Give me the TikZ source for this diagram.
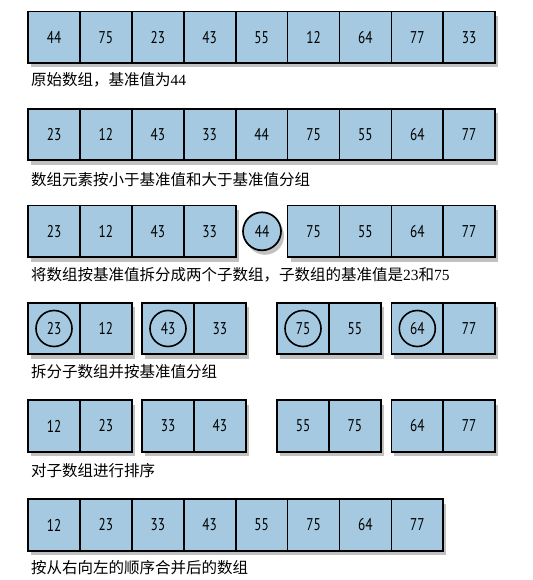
\documentclass[tikz,border=0pt]{standalone}
\usepackage{fontspec}
\setmainfont{Liberation Serif}
\newfontfamily\cjk{Noto Sans CJK SC}
\newfontfamily\cellfont[FakeStretch=0.78]{PT Sans}
\usetikzlibrary{shadows}
\definecolor{cellblue}{RGB}{164,201,224}
\begin{document}
\begin{tikzpicture}
[x=1pt,y=1pt,
  celldecorate/.style={shape=rectangle,draw,line width=1.7pt,fill=cellblue,
    minimum width=51.9pt,minimum height=51.5pt,inner sep=0pt,
    font=\cellfont\fontsize{17}{17}\selectfont,
    drop shadow={shadow xshift=3pt,shadow yshift=-4.5pt,opacity=.35,fill=black!70}},%
  pivotdecorate/.style={shape=circle,draw,line width=1.7pt,fill=cellblue,
    minimum size=38pt,inner sep=0pt,font=\cellfont\fontsize{17}{17}\selectfont,
    drop shadow={shadow xshift=3pt,shadow yshift=-4.5pt,opacity=.35,fill=black!70}},%
  ringdecorate/.style={shape=circle,draw,line width=1.6pt,minimum size=36pt,inner sep=0pt},%
  labeldecorate/.style={anchor=west,inner sep=0pt,font=\fontsize{15.5}{18}\selectfont}]
\useasboundingbox (0,0) rectangle (532,-580);
%% row 1: original array
\foreach \nodename/\x/\val in {a1/54/44, a2/105.9/75, a3/157.8/23, a4/209.7/43,
  a5/261.6/55, a6/313.5/12, a7/365.4/64, a8/417.3/77, a9/469.2/33} {
  \node (\nodename) at (\x,-37.2) [celldecorate] {\val};
}
\node (la) at (31,-80) [labeldecorate] {{\cjk 原始数组，基准值为}44};
%% row 2: grouped around pivot
\foreach \nodename/\x/\val in {b1/54/23, b2/105.9/12, b3/157.8/43, b4/209.7/33,
  b5/261.6/44, b6/313.5/75, b7/365.4/55, b8/417.3/64, b9/469.2/77} {
  \node (\nodename) at (\x,-134.5) [celldecorate] {\val};
}
\node (lb) at (31,-180) [labeldecorate] {\cjk 数组元素按小于基准值和大于基准值分组};
%% row 3: split into two sub arrays
\foreach \nodename/\x/\val in {c1/54/23, c2/105.9/12, c3/157.8/43, c4/209.7/33,
  c6/313.5/75, c7/365.4/55, c8/417.3/64, c9/469.2/77} {
  \node (\nodename) at (\x,-231.3) [celldecorate] {\val};
}
\node (c5) at (262,-231.3) [pivotdecorate] {44};
\node (lc) at (31,-275) [labeldecorate] {{\cjk 将数组按基准值拆分成两个子数组，子数组的基准值是}23{\cjk 和}75};
%% row 4: sub arrays with their pivots
\foreach \nodename/\x/\val in {d1/54/23, d2/105.9/12, d3/168/43, d4/219.9/33,
  d5/303/75, d6/354.9/55, d7/417.3/64, d8/469.2/77} {
  \node (\nodename) at (\x,-328.5) [celldecorate] {\val};
}
\foreach \ringname/\cellname in {r1/d1, r2/d3, r3/d5, r4/d7} {
  \node (\ringname) at (\cellname.center) [ringdecorate] {};
}
\node (ld) at (31,-372) [labeldecorate] {\cjk 拆分子数组并按基准值分组};
%% row 5: sorted sub arrays
\foreach \nodename/\x/\val in {e1/54/12, e2/105.9/23, e3/168/33, e4/219.9/43,
  e5/303/55, e6/354.9/75, e7/417.3/64, e8/469.2/77} {
  \node (\nodename) at (\x,-426) [celldecorate] {\val};
}
\node (le) at (31,-471) [labeldecorate] {\cjk 对子数组进行排序};
%% row 6: merged result
\foreach \nodename/\x/\val in {f1/54/12, f2/105.9/23, f3/157.8/33, f4/209.7/43,
  f5/261.6/55, f6/313.5/75, f7/365.4/64, f8/417.3/77} {
  \node (\nodename) at (\x,-525) [celldecorate] {\val};
}
\node (lf) at (31,-568) [labeldecorate] {\cjk 按从右向左的顺序合并后的数组};
\end{tikzpicture}
\end{document}
